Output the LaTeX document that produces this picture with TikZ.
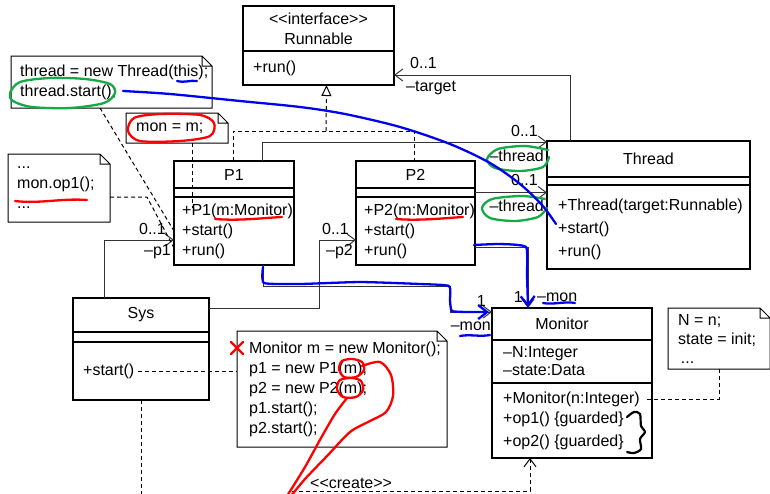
\documentclass[tikz,border=0pt]{standalone}
\usepackage{fontspec}
\setmainfont{Liberation Sans}
\usetikzlibrary{arrows.meta,positioning}
\definecolor{pengreen}{RGB}{20,170,70}
\definecolor{penblue}{RGB}{0,0,240}
\newcommand\stereo[1]{\mbox{<}\mbox{<}#1\mbox{>}\mbox{>}}
\newcommand\notefold[1]{\draw[notel](#1.north west)--([xshift=-10pt]#1.north east)--([yshift=-10pt]#1.north east)--(#1.south east)--(#1.south west)--cycle
  ([xshift=-10pt]#1.north east)|-([yshift=-10pt]#1.north east);}
\tikzset{cls/.style={draw,line width=1.2pt,anchor=north west,inner sep=0pt,outer sep=0pt,align=center},
         ops/.style={anchor=west,align=left,inner sep=0pt},
         notebox/.style={anchor=north west,inner sep=0pt,outer sep=0pt},
         notel/.style={line width=1pt},
         lbl/.style={inner sep=0pt},
         assoc/.style={line width=1pt,draw=black!80,-{Straight Barb[length=8pt,width=12pt]}},
         dep/.style={line width=1pt,dash pattern=on 4pt off 3pt},
         real/.style={dep,-{Triangle[open,length=11pt,width=10pt]}},
         redpen/.style={draw=red,line width=2.3pt,line cap=round,line join=round},
         greenpen/.style={redpen,draw=pengreen},
         bluepen/.style={redpen,draw=penblue}
}
\begin{document}
\begin{tikzpicture}[x=1pt,y=-1pt,font=\fontsize{16}{20}\selectfont]
  \useasboundingbox(0,0)rectangle(770,493);
  % classes
  \node[cls,minimum width=151,minimum height=45](run)at(243,6){\stereo{interface}\\Runnable};
  \node[cls,minimum width=151,minimum height=34](runo)at(run.south west){};
  \node[ops](runt)at([xshift=10]runo.west){+run()};
  \node[cls,minimum width=203,minimum height=36](thr)at(547,141){Thread};
  \node[cls,minimum width=203,minimum height=8](thra)at(thr.south west){};
  \node[cls,minimum width=203,minimum height=84](thro)at(thra.south west){};
  \node[ops](thrt)at([xshift=11,yshift=-2]thro.west){+Thread(target:Runnable)\\[3pt]+start()\\[3pt]+run()};
  \node[cls,minimum width=120,minimum height=27](p1)at(174,161){P1};
  \node[cls,minimum width=120,minimum height=9](p1a)at(p1.south west){};
  \node[cls,minimum width=120,minimum height=68](p1o)at(p1a.south west){};
  \node[ops](p1t)at([xshift=8]p1o.west){+P1(m:Monitor)\\+start()\\+run()};
  \node[cls,minimum width=119,minimum height=27](p2)at(356,161){P2};
  \node[cls,minimum width=119,minimum height=9](p2a)at(p2.south west){};
  \node[cls,minimum width=119,minimum height=68](p2o)at(p2a.south west){};
  \node[ops](p2t)at([xshift=8]p2o.west){+P2(m:Monitor)\\+start()\\+run()};
  \node[cls,minimum width=136,minimum height=34](sys)at(73,298){Sys};
  \node[cls,minimum width=136,minimum height=10](sysa)at(sys.south west){};
  \node[cls,minimum width=136,minimum height=58](syso)at(sysa.south west){};
  \node[ops](syst)at([xshift=10]syso.west){+start()};
  \node[cls,minimum width=160,minimum height=32](mon)at(492,308){Monitor\hspace*{20pt}};
  \node[cls,minimum width=160,minimum height=43](mona)at(mon.south west){};
  \node[ops](mont)at([xshift=11]mona.west){--N:Integer\\[-2pt]--state:Data};
  \node[cls,minimum width=160,minimum height=75](mono)at(mona.south west){};
  \node[ops](monm)at([xshift=11]mono.west){+Monitor(n:Integer)\\+op1() \{guarded\}\\[3pt]+op2() \{guarded\}};
  % notes
  \node[notebox,minimum width=201,minimum height=52](n1)at(11,56){};
  \notefold{n1}
  \node[ops](n1t)at([xshift=9]n1.west){thread = new Thread(this);\\thread.start();};
  \node[notebox,minimum width=102,minimum height=30](n2)at(126,113){};
  \notefold{n2}
  \node[ops](n2t)at([xshift=10]n2.west){mon = m;};
  \node[notebox,minimum width=102,minimum height=68](n3)at(8,154){};
  \notefold{n3}
  \node[ops](n3t)at([xshift=9]n3.west){...\\mon.op1();\\...};
  \node[notebox,minimum width=210,minimum height=116](n4)at(237,331){};
  \notefold{n4}
  \node[ops](n4t)at([xshift=12]n4.west){Monitor m = new Monitor();\\p1 = new P1(m);\\p2 = new P2(m);\\p1.start();\\p2.start();};
  \node[notebox,minimum width=102,minimum height=61](n5)at(668,308){};
  \notefold{n5}
  \node[ops](n5t)at([xshift=10]n5.west){N = n;\\[-1pt]state = init;\\[-1pt]\,...};
  % associations
  \draw[assoc]([xshift=23]thr.north west)|-([yshift=-7]runo.east);
  \draw(410,63)node[lbl,right](m1){0..1};
  \draw(406,88)node[lbl,right](r1){--target};
  \draw[assoc]([xshift=88]p1.north west)|-([yshift=-1]thr.north west);
  \draw(538,131)node[lbl,left](m2){0..1};
  \draw(544,156)node[lbl,left](r2){--thread};
  \draw[assoc](p2a.east)--(p2a.east-|thr.west);
  \draw(538,180)node[lbl,left](m3){0..1};
  \draw(544,206)node[lbl,left](r3){--thread};
  \draw[assoc]([xshift=31]sys.north west)|-([yshift=-9]p1o.west);
  \draw(166,229)node[lbl,left](m4){0..1};
  \draw(171,252)node[lbl,left](r4){--p1};
  \coordinate(b2)at(319,240);
  \draw[assoc]([yshift=-10]sys.north east)-|(b2)--([yshift=-9]p2o.west);
  \draw(349,229)node[lbl,left](m5){0..1};
  \draw(353,252)node[lbl,left](r5){--p2};
  \coordinate(b3)at(450,286);
  \draw[assoc]([xshift=89]p1o.south west)|-(b3)|-([yshift=-4]mon.north west);
  \draw(486,301)node[lbl,left](m6){1};
  \draw(491,326)node[lbl,left](r6){--mon};
  \draw[assoc]([yshift=-16]p2o.east)-|([xshift=36]mon.north west);
  \draw(523,297)node[lbl,left](m7){1};
  \draw(537,297)node[lbl,right](r7){--mon};
  % realization and dependencies
  \coordinate(rz)at(326,131);
  \draw[dep]([xshift=59]p1.north west)|-(rz)-|([xshift=58]p2.north west);
  \draw[real](rz)--([xshift=8]runo.south);
  \draw[dep]([xshift=66]n2.south west)--([xshift=18,yshift=-11]p1o.north west);
  \draw[dep]([xshift=89]n1.south west)--(p1o.west);
  \draw[dep]([yshift=-9]n3.east)--++(37,0)--([yshift=-17]p1o.west);
  \draw[dep]([xshift=-3]syso.center)--(syso.center-|n4.west);
  \coordinate(se)at(141,495);
  \draw[dep](syso.south)--(se);
  \coordinate(cr)at(292,491);
  \draw[dep,-{Straight Barb[length=8pt,width=12pt]}](cr)-|([xshift=38]mono.south west);
  \draw(310,483)node[lbl,right](cl){\stereo{create}};
  \draw[dep]([xshift=-5,yshift=21.5]mono.east)-|(n5.south);
  % pen marks
  \draw[redpen]plot[smooth cycle]coordinates{(128,131)(134,118)(160,114)(200,115)(214,123)(210,136)(180,141)(140,141)};
  \draw[redpen](15,201)..controls(40,204)and(62,198)..(87,200);
  \draw[redpen](215,219)..controls(240,221)and(262,218)..(282,217);
  \draw[redpen](396,219)..controls(420,221)and(445,218)..(463,217);
  \draw[redpen](231,342)--(243,354)(243,342)--(231,354);
  \draw[redpen]plot[smooth cycle]coordinates{(339,369)(342,361)(352,359)(362,362)(364,370)(356,377)(344,377)};
  \draw[redpen]plot[smooth cycle]coordinates{(337,389)(340,380)(352,378)(361,381)(363,390)(356,397)(343,397)};
  \draw[redpen]plot[smooth]coordinates{(362,366)(380,362)(391,375)(393,396)(386,412)(370,421)(350,432)(328,455)(305,479)(291,496)};
  \draw[redpen]plot[smooth]coordinates{(347,398)(335,414)(321,438)(305,467)(287,496)};
  \draw[greenpen]plot[smooth cycle]coordinates{(10,93)(20,82)(50,78)(85,79)(110,84)(115,93)(104,103)(70,108)(32,107)(13,101)};
  \draw[greenpen]plot[smooth]coordinates{(548,150)(525,146)(498,149)(487,159)(495,168)(520,171)(543,167)(549,157)};
  \draw[greenpen]plot[smooth]coordinates{(545,199)(522,196)(492,199)(482,208)(490,218)(515,221)(538,217)(547,208)};
  \draw[bluepen](177,81)..controls(185,83)and(190,80)..(197,81);
  \draw[bluepen]plot[smooth]coordinates{(123,91)(170,94)(240,101)(300,107)(345,114)(400,127)(450,144)(490,163)(520,184)(542,205)(556,224)};
  \draw[bluepen,-{Straight Barb[length=9pt,width=14pt]}]plot[smooth,tension=0.3]coordinates{(263,267)(264,283)(300,284)(360,282)(420,284)(449,286)(450,300)(452,311)(470,312)(489,312)};
  \draw[bluepen,-{Straight Barb[length=9pt,width=14pt]}]plot[smooth,tension=0.3]coordinates{(474,245)(500,244)(526,247)(527,275)(528,307)};
  \draw[bluepen](543,303)..controls(553,305)and(565,301)..(575,303);
  \draw[bluepen](460,336)..controls(470,334)and(480,337)..(490,335);
  \draw[line width=2.2pt,line cap=round]plot[smooth]coordinates{(627,417)(634,412)(640,414)(641,426)(645,432)(640,439)(641,449)(634,453)(627,452)};
\end{tikzpicture}
\end{document}
